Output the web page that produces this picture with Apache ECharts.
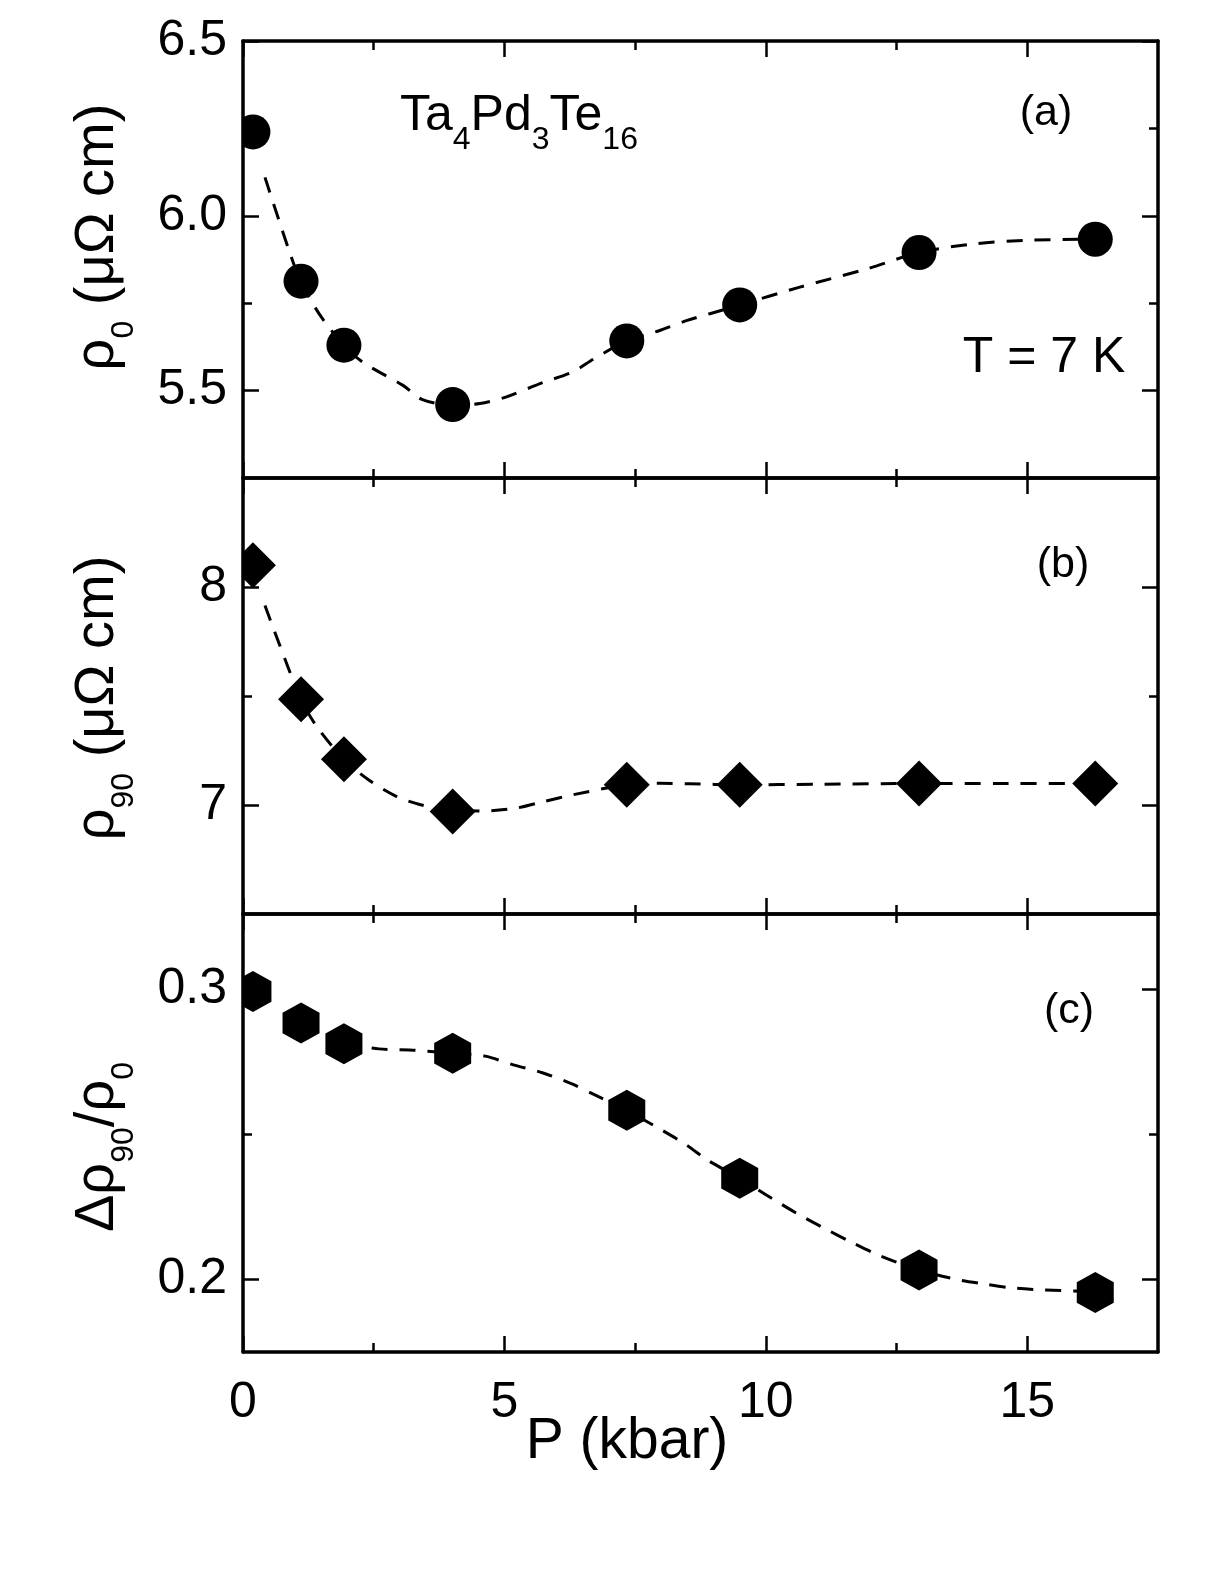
<!DOCTYPE html>
<html>
<head>
<meta charset="utf-8">
<script src="https://cdn.jsdelivr.net/npm/echarts@6/dist/echarts.min.js"></script>
<style>
  html, body { margin: 0; padding: 0; background: #fff; }
  #chart { width: 1217px; height: 1592px; }
</style>
</head>
<body>
<div id="chart"></div>
<script>
// measured points (pressure in kbar)
const pressure = [0.19, 1.11, 1.93, 4.01, 7.34, 9.5, 12.93, 16.3];
const rho0 = [6.24, 5.813, 5.63, 5.46, 5.642, 5.745, 5.895, 5.933];
const rho90 = [8.1, 7.485, 7.21, 6.97, 7.093, 7.093, 7.099, 7.099];
const ratio = [0.2993, 0.2884, 0.2813, 0.278, 0.2583, 0.2349, 0.2033, 0.1955];

// dashed guide curves
const fitAx = [0.42, 0.86, 1.11, 1.5, 1.93, 2.3, 3.06, 3.42, 4.01, 4.53, 5.04, 5.68, 6.31, 6.7, 7.34, 7.97, 8.48, 8.93, 9.5, 10.65, 11.93, 12.93, 14, 15, 16.3];
const fitAy = [6.11, 5.91, 5.81, 5.71, 5.63, 5.58, 5.515, 5.475, 5.458, 5.463, 5.482, 5.52, 5.554, 5.59, 5.642, 5.672, 5.70, 5.72, 5.745, 5.796, 5.848, 5.895, 5.92, 5.93, 5.933];
const fitBx = [0.42, 0.68, 1.11, 1.41, 1.93, 2.4, 2.93, 3.38, 4.01, 4.6, 5.23, 5.77, 6.31, 7.34, 7.97, 8.55, 9.5, 11, 12.93, 14.5, 16.3];
const fitBy = [7.915, 7.747, 7.485, 7.36, 7.21, 7.116, 7.04, 7.002, 6.975, 6.973, 6.986, 7.017, 7.047, 7.093, 7.1, 7.097, 7.093, 7.095, 7.099, 7.099, 7.099];
const fitCx = [1.93, 2.6, 3.3, 4.01, 4.63, 5.17, 5.74, 6.28, 6.79, 7.34, 8.0, 8.48, 8.88, 9.5, 10.12, 10.6, 11.07, 11.63, 12.17, 12.93, 13.6, 14.16, 14.71, 15.32, 16.3];
const fitCy = [0.2813, 0.2795, 0.279, 0.278, 0.277, 0.274, 0.2712, 0.2675, 0.2631, 0.2583, 0.2516, 0.2464, 0.2412, 0.2349, 0.2279, 0.2227, 0.2181, 0.2129, 0.2083, 0.2033, 0.2002, 0.1985, 0.1971, 0.1964, 0.1958];

// ticks
const xMajor = [0, 5, 10, 15];
const xMinor = [2.5, 7.5, 12.5];
const yMajorA = [5.5, 6.0, 6.5];
const yMinorA = [5.75, 6.25];
const yMajorB = [7, 8];
const yMinorB = [7.5];
const yMajorC = [0.2, 0.3];
const yMinorC = [0.25];

const FONT = '"Liberation Sans", Arial, Helvetica, sans-serif';
const BLACK = '#000';

const zip = (xs, ys) => xs.map((x, i) => [x, ys[i]]);

function axisPair(gridIndex, position, min, max, major, minor, showLabels, fmt, margin) {
  const base = {
    type: 'value',
    gridIndex,
    position,
    min,
    max,
    z: 10,
    splitLine: { show: false },
    axisPointer: { show: false },
  };
  const majorAxis = Object.assign({}, base, {
    axisLine: { show: true, onZero: false, lineStyle: { color: BLACK, width: 3.5 } },
    axisTick: { show: true, inside: true, length: 16, customValues: major, lineStyle: { color: BLACK, width: 2.5 } },
    axisLabel: {
      show: showLabels,
      customValues: major,
      color: BLACK,
      fontFamily: FONT,
      fontSize: 50,
      margin,
      formatter: fmt,
    },
  });
  const minorAxis = Object.assign({}, base, {
    axisLine: { show: false, onZero: false },
    axisTick: { show: true, inside: true, length: 9, customValues: minor, lineStyle: { color: BLACK, width: 2.5 } },
    axisLabel: { show: false },
  });
  return [majorAxis, minorAxis];
}

const grids = [
  { left: 243, right: 59, top: 41, height: 437 },
  { left: 243, right: 59, top: 478, height: 436 },
  { left: 243, right: 59, top: 914, height: 438 },
];

const yRanges = [
  { min: 5.25, max: 6.5, major: yMajorA, minor: yMinorA, fmt: (v) => v.toFixed(1) },
  { min: 6.5, max: 8.5, major: yMajorB, minor: yMinorB, fmt: (v) => String(v) },
  { min: 0.175, max: 0.326, major: yMajorC, minor: yMinorC, fmt: (v) => v.toFixed(1) },
];

const xAxis = [];
const yAxis = [];
grids.forEach((g, i) => {
  xAxis.push(...axisPair(i, 'bottom', 0, 17.5, xMajor, xMinor, i === 2, (v) => String(v), 26));
  xAxis.push(...axisPair(i, 'top', 0, 17.5, xMajor, xMinor, false, null, 8));
  const r = yRanges[i];
  yAxis.push(...axisPair(i, 'left', r.min, r.max, r.major, r.minor, true, r.fmt, 16));
  yAxis.push(...axisPair(i, 'right', r.min, r.max, r.major, r.minor, false, null, 8));
});

const hexagon = 'path://M0,-20L17.32,-10L17.32,10L0,20L-17.32,10L-17.32,-10Z';

function fitSeries(i, data) {
  return {
    type: 'line',
    xAxisIndex: 4 * i,
    yAxisIndex: 4 * i,
    data,
    smooth: 0.3,
    symbol: 'none',
    z: 2,
    lineStyle: { color: BLACK, width: 3, type: [16, 12] },
  };
}
function pointSeries(i, data, symbol, size) {
  return {
    type: 'scatter',
    xAxisIndex: 4 * i,
    yAxisIndex: 4 * i,
    data,
    symbol,
    symbolSize: size,
    z: 3,
    itemStyle: { color: BLACK, opacity: 1 },
  };
}

const sub = (pad) => ({ fontSize: 32, lineHeight: 32, fontFamily: FONT, verticalAlign: 'top', padding: [pad, 0, 0, 0], fill: BLACK, color: BLACK });
const main = (size, lh) => ({ fontSize: size, lineHeight: lh, fontFamily: FONT, verticalAlign: 'top', fill: BLACK, color: BLACK });

function yName(text, x, y) {
  return {
    type: 'text',
    x,
    y,
    rotation: Math.PI / 2,
    z: 20,
    style: {
      text,
      align: 'center',
      verticalAlign: 'top',
      fill: BLACK,
      rich: { m: main(56, 64), s: sub(38) },
    },
  };
}
function plainText(text, x, y, size) {
  return {
    type: 'text',
    x,
    y,
    z: 20,
    style: { text, fill: BLACK, fontFamily: FONT, fontSize: size, align: 'center', verticalAlign: 'middle' },
  };
}

const chart = echarts.init(document.getElementById('chart'), null, { renderer: 'canvas' });
chart.setOption({
  animation: false,
  backgroundColor: '#fff',
  grid: grids,
  xAxis,
  yAxis,
  series: [
    fitSeries(0, zip(fitAx, fitAy)),
    pointSeries(0, zip(pressure, rho0), 'circle', 35),
    fitSeries(1, zip(fitBx, fitBy)),
    pointSeries(1, zip(pressure, rho90), 'diamond', 46),
    fitSeries(2, zip(fitCx, fitCy)),
    pointSeries(2, zip(pressure, ratio), hexagon, [37, 41]),
  ],
  graphic: [
    // hide marker parts that stick out left of the frame
    { type: 'rect', z: 5, shape: { x: 205, y: 40, width: 37, height: 1313 }, style: { fill: '#fff' } },
    yName('{m|ρ}{s|0}{m| (μΩ cm)}', 70, 237),
    yName('{m|ρ}{s|90}{m| (μΩ cm)}', 70, 698),
    yName('{m|Δρ}{s|90}{m|/ρ}{s|0}', 70, 1147),
    {
      type: 'text',
      x: 400,
      y: 91,
      z: 20,
      style: {
        text: '{m|Ta}{s|4}{m|Pd}{s|3}{m|Te}{s|16}',
        align: 'left',
        verticalAlign: 'top',
        fill: BLACK,
        rich: { m: main(50, 58), s: sub(33) },
      },
    },
    plainText('(a)', 1046, 113, 43),
    plainText('(b)', 1063, 565, 43),
    plainText('(c)', 1069, 1011, 43),
    plainText('T = 7 K', 1044, 358, 50),
    plainText('P (kbar)', 627, 1442, 57),
  ],
});
</script>
</body>
</html>
